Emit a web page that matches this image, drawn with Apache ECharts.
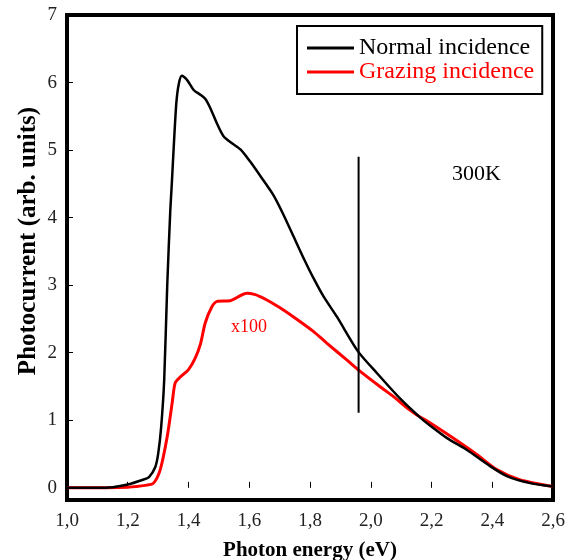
<!DOCTYPE html>
<html>
<head>
<meta charset="utf-8">
<script src="https://cdn.jsdelivr.net/npm/echarts@6/dist/echarts.min.js"></script>
<style>
  html, body { margin: 0; padding: 0; background: #fff; }
  #chart { width: 573px; height: 560px; }
</style>
</head>
<body>
<div id="chart"></div>
<script>
// photon energy (eV) / photocurrent
const normalX = [1.00, 1.10, 1.15, 1.20, 1.25, 1.27, 1.29, 1.30, 1.31, 1.32, 1.33, 1.34, 1.345, 1.352, 1.36, 1.368, 1.378, 1.395, 1.417, 1.439, 1.455, 1.472, 1.494, 1.516, 1.543, 1.571, 1.603, 1.636, 1.68, 1.713, 1.746, 1.779, 1.812, 1.845, 1.889, 1.958, 2.02, 2.097, 2.163, 2.196, 2.25, 2.317, 2.39, 2.45, 2.525, 2.60]
const normalY = [0, 0, 0.01, 0.05, 0.12, 0.16, 0.30, 0.50, 0.90, 1.60, 3.00, 4.10, 4.50, 5.10, 5.70, 5.98, 6.10, 6.04, 5.89, 5.82, 5.76, 5.62, 5.39, 5.20, 5.10, 5.01, 4.83, 4.62, 4.33, 4.04, 3.72, 3.40, 3.10, 2.83, 2.53, 2.02, 1.70, 1.32, 1.04, 0.92, 0.74, 0.56, 0.33, 0.17, 0.07, 0.02]

const grazingX = [1.00, 1.20, 1.263, 1.285, 1.307, 1.33, 1.346, 1.356, 1.373, 1.40, 1.422, 1.44, 1.455, 1.477, 1.494, 1.537, 1.592, 1.62, 1.636, 1.658, 1.70, 1.746, 1.81, 1.856, 1.922, 1.958, 2.03, 2.075, 2.12, 2.152, 2.196, 2.27, 2.35, 2.415, 2.49, 2.60]
const grazingY = [0, 0.01, 0.04, 0.07, 0.27, 0.76, 1.25, 1.55, 1.64, 1.75, 1.92, 2.14, 2.44, 2.68, 2.76, 2.77, 2.88, 2.86, 2.83, 2.78, 2.67, 2.53, 2.32, 2.14, 1.89, 1.75, 1.50, 1.35, 1.18, 1.08, 0.96, 0.74, 0.49, 0.27, 0.12, 0.02]

// vertical marker line
const markerX = [1.96, 1.96]
const markerY = [1.11, 4.9]

const yTicks = [0, 1, 2, 3, 4, 5, 6, 7]

const serif = '"Liberation Serif", "DejaVu Serif", serif'

function pairs(xs, ys) {
  return xs.map((x, i) => [x, ys[i]])
}

const chart = echarts.init(document.getElementById('chart'))

const option = {
  animation: false,
  backgroundColor: '#fff',
  grid: {
    left: 67, right: 20, top: 15, bottom: 60,
    outerBoundsMode: 'none',
    show: true,
    borderColor: '#000',
    borderWidth: 4
  },
  legend: {
    orient: 'vertical',
    left: 297,
    top: 26,
    padding: [10, 8, 10, 10],
    itemGap: 0,
    itemWidth: 47,
    itemHeight: 3,
    borderColor: '#000',
    borderWidth: 2,
    backgroundColor: '#fff',
    icon: 'rect',
    data: [
      { name: 'Normal incidence', textStyle: { color: '#000' } },
      { name: 'Grazing incidence', textStyle: { color: '#ff0000' } }
    ],
    textStyle: { fontFamily: serif, fontSize: 24 }
  },
  xAxis: {
    type: 'value',
    min: 1.0,
    max: 2.6,
    interval: 0.2,
    name: 'Photon energy (eV)',
    nameLocation: 'middle',
    nameGap: 40,
    nameTextStyle: { fontFamily: serif, fontSize: 21, fontWeight: 'bold', color: '#000' },
    axisLine: { show: false },
    axisTick: { inside: true, length: 6, lineStyle: { color: '#000', width: 1 } },
    axisLabel: {
      fontFamily: serif, fontSize: 19, color: '#222', margin: 12,
      formatter: v => v.toFixed(1).replace('.', ',')
    },
    splitLine: { show: false }
  },
  yAxis: {
    type: 'value',
    min: -0.18,
    max: 7,
    axisLine: { show: false },
    axisTick: { inside: true, length: 6, customValues: yTicks, lineStyle: { color: '#000', width: 1 } },
    axisLabel: { fontFamily: serif, fontSize: 19, color: '#222', margin: 10, customValues: yTicks },
    splitLine: { show: false }
  },
  series: [
    {
      name: 'Normal incidence',
      type: 'line',
      data: pairs(normalX, normalY),
      smooth: 0.25,
      showSymbol: false,
      color: '#000',
      lineStyle: { color: '#000', width: 2.5 },
      z: 3
    },
    {
      name: 'Grazing incidence',
      type: 'line',
      data: pairs(grazingX, grazingY),
      smooth: 0.25,
      showSymbol: false,
      color: '#ff0000',
      lineStyle: { color: '#ff0000', width: 3 },
      z: 2
    },
    {
      name: 'marker',
      type: 'line',
      data: pairs(markerX, markerY),
      showSymbol: false,
      lineStyle: { color: '#000', width: 2 },
      z: 4
    }
  ],
  graphic: [
    {
      type: 'text', x: 29, y: 241, rotation: Math.PI / 2,
      style: {
        text: 'Photocurrent (arb. units)', fontFamily: serif, fontSize: 25, fontWeight: 'bold',
        fill: '#000', align: 'center', verticalAlign: 'middle'
      }
    },
    {
      type: 'text', left: 452, top: 163,
      style: { text: '300K', fontFamily: serif, fontSize: 22, fill: '#000' }
    },
    {
      type: 'text', left: 231, top: 318,
      style: { text: 'x100', fontFamily: serif, fontSize: 18, fill: '#ff0000' }
    }
  ]
}

chart.setOption(option)
</script>
</body>
</html>
